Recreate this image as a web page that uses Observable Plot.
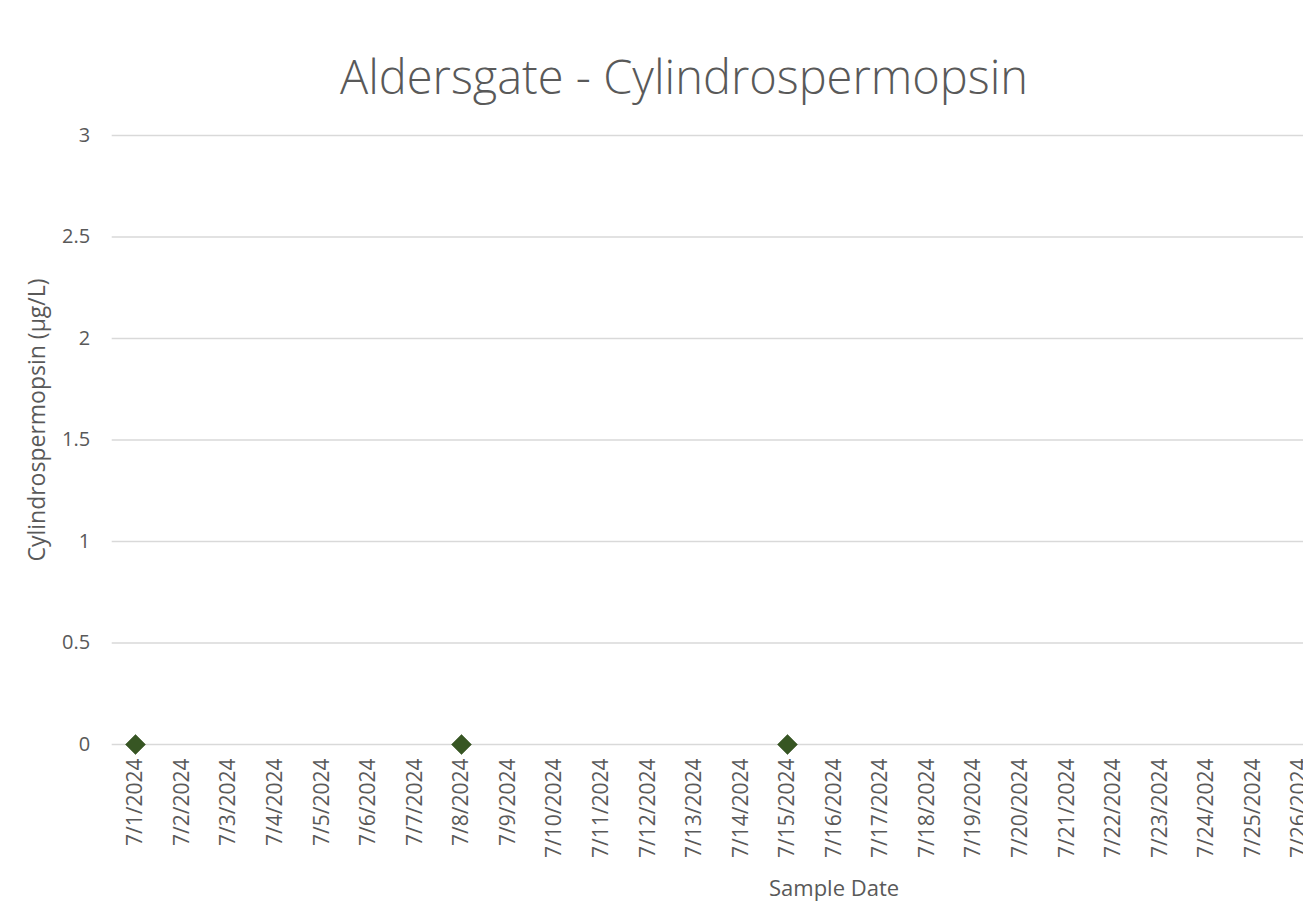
<!DOCTYPE html>
<html><head><meta charset="utf-8">
<script src="https://cdn.jsdelivr.net/npm/d3@7"></script>
<script src="https://cdn.jsdelivr.net/npm/@observablehq/plot@0.6"></script>
<style>
html,body{margin:0;padding:0;background:#fff;overflow:hidden}
#wrap{position:relative;width:1303px;height:909px;overflow:hidden;background:#fff}
#title{position:absolute;left:0;top:53px;width:1368px;text-align:center;font-family:"Open Sans";font-weight:300;font-size:47px;color:#595959;line-height:1;white-space:nowrap}
#chart{position:absolute;left:0;top:110px;width:1561px}
#chart svg{max-width:none !important}
</style></head>
<body>
<div id="wrap"><div id="title">Aldersgate - Cylindrospermopsin</div><div id="chart"></div></div>
<script>
const dateCategories = ["7/1/2024","7/2/2024","7/3/2024","7/4/2024","7/5/2024","7/6/2024","7/7/2024","7/8/2024","7/9/2024","7/10/2024","7/11/2024","7/12/2024","7/13/2024","7/14/2024","7/15/2024","7/16/2024","7/17/2024","7/18/2024","7/19/2024","7/20/2024","7/21/2024","7/22/2024","7/23/2024","7/24/2024","7/25/2024","7/26/2024","7/27/2024","7/28/2024","7/29/2024","7/30/2024","7/31/2024"];
const sampleDates = ["7/1/2024","7/8/2024","7/15/2024"];
const cylValues = [0, 0, 0];
const yTicks = [0, 0.5, 1, 1.5, 2, 2.5, 3];
const yLabel = "Cylindrospermopsin (µg/L)";
const xLabel = "Sample Date";

const samples = sampleDates.map((d, i) => ({date: d, value: cylValues[i]}));

const chart = Plot.plot({
  width: 1561,
  height: 799,
  marginTop: 25,
  marginBottom: 165,
  marginLeft: 111.7,
  marginRight: 5.6,
  style: {fontFamily: "Open Sans", fontSize: "20px", color: "#595959", background: "transparent", maxWidth: "none"},
  x: {type: "band", domain: dateCategories, padding: 0, round: false},
  y: {domain: [0, 3]},
  marks: [
    Plot.gridY(yTicks, {stroke: "#d9d9d9", strokeOpacity: 1, strokeWidth: 1.5}),
    Plot.axisY(yTicks, {tickSize: 0, tickPadding: 22, tickFormat: d => String(d), fontSize: 20, fill: "#595959", label: null}),
    Plot.text([yLabel], {frameAnchor: "left", textAnchor: "middle", rotate: -90, dx: -75, dy: -20, fontSize: 23, fill: "#595959"}),
    Plot.axisX({tickSize: 0, tickRotate: -90, tickPadding: 14, fontSize: 21, fill: "#595959", label: null}),
    Plot.text([xLabel], {frameAnchor: "bottom", dy: 151, fontSize: 22, fill: "#595959"}),
    Plot.dot(samples, {x: "date", y: "value", symbol: "diamond2", r: 9, fill: "#375623", stroke: "#2f4a1d", strokeWidth: 0.5})
  ]
});
document.getElementById("chart").appendChild(chart);
</script>
</body></html>
